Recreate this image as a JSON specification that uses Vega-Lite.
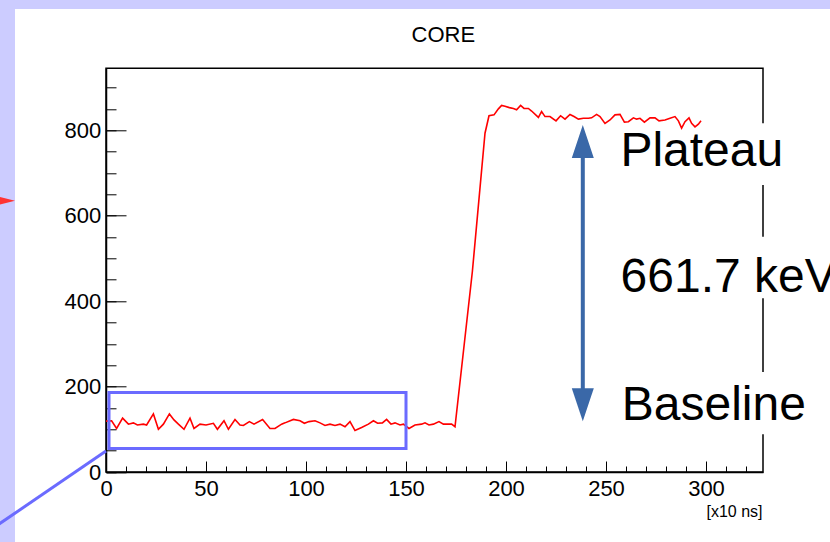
{
  "$schema": "https://vega.github.io/schema/vega-lite/v6.json",
  "width": 657,
  "height": 403.7,
  "autosize": {"type": "none"},
  "padding": {"left": 106, "top": 68.3, "right": 67, "bottom": 70},
  "background": "white",
  "config": {"view": {"stroke": "black", "strokeWidth": 1.5}, "font": "Liberation Sans"},
  "resolve": {"axis": {"x": "independent", "y": "independent"}},
  "layer": [
    {
      "data": {"values": [{}]},
      "mark": {"type": "rect", "color": "#ccccff", "strokeWidth": 0},
      "encoding": {
        "x": {"datum": -60, "type": "quantitative", "axis": null},
        "x2": {"datum": -45.5},
        "y": {"datum": -250, "type": "quantitative", "axis": null},
        "y2": {"datum": 1120}
      }
    },
    {
      "data": {"values": [{}]},
      "mark": {"type": "rect", "color": "#ccccff", "strokeWidth": 0},
      "encoding": {
        "x": {"datum": -60, "type": "quantitative", "axis": null},
        "x2": {"datum": 420},
        "y": {"datum": 1084.1, "type": "quantitative", "axis": null},
        "y2": {"datum": 1120}
      }
    },
    {
      "data": {"values": [{}]},
      "mark": {"type": "rect", "color": "white", "strokeWidth": 0},
      "encoding": {
        "x": {"datum": 317, "type": "quantitative", "axis": null},
        "x2": {"datum": 420},
        "y": {"datum": 672, "type": "quantitative", "axis": null},
        "y2": {"datum": 816.4}
      }
    },
    {
      "data": {"values": [{}]},
      "mark": {"type": "rect", "color": "white", "strokeWidth": 0},
      "encoding": {
        "x": {"datum": 317, "type": "quantitative", "axis": null},
        "x2": {"datum": 420},
        "y": {"datum": 406.7, "type": "quantitative", "axis": null},
        "y2": {"datum": 550.9}
      }
    },
    {
      "data": {"values": [{}]},
      "mark": {"type": "rect", "color": "white", "strokeWidth": 0},
      "encoding": {
        "x": {"datum": 317, "type": "quantitative", "axis": null},
        "x2": {"datum": 420},
        "y": {"datum": 88.3, "type": "quantitative", "axis": null},
        "y2": {"datum": 234.1}
      }
    },
    {
      "data": {"values": [
        {"t": 0, "v": 119}, {"t": 2.8, "v": 120}, {"t": 5.3, "v": 102}, {"t": 8.3, "v": 126},
        {"t": 11.2, "v": 112}, {"t": 13.7, "v": 115}, {"t": 15.7, "v": 110}, {"t": 18.7, "v": 112},
        {"t": 20.3, "v": 110}, {"t": 23.7, "v": 136}, {"t": 26.2, "v": 100}, {"t": 28.7, "v": 112},
        {"t": 31.7, "v": 136}, {"t": 34, "v": 122}, {"t": 36.2, "v": 112}, {"t": 39, "v": 100},
        {"t": 42, "v": 126}, {"t": 44, "v": 102}, {"t": 47, "v": 112}, {"t": 50, "v": 110},
        {"t": 53.7, "v": 114}, {"t": 55.7, "v": 100}, {"t": 59, "v": 120}, {"t": 61.2, "v": 100},
        {"t": 64.5, "v": 123}, {"t": 67, "v": 110}, {"t": 68.7, "v": 109}, {"t": 71.7, "v": 118},
        {"t": 74, "v": 112}, {"t": 78.3, "v": 123}, {"t": 82, "v": 102}, {"t": 84.5, "v": 102},
        {"t": 87.8, "v": 112}, {"t": 89.5, "v": 115}, {"t": 93.7, "v": 123}, {"t": 97, "v": 120},
        {"t": 99.2, "v": 114}, {"t": 101.5, "v": 118}, {"t": 104.5, "v": 120}, {"t": 107, "v": 115},
        {"t": 109.5, "v": 109}, {"t": 112, "v": 112}, {"t": 114.5, "v": 109}, {"t": 117, "v": 112},
        {"t": 119.5, "v": 106}, {"t": 122, "v": 118}, {"t": 124.5, "v": 97}, {"t": 127.8, "v": 104},
        {"t": 131.2, "v": 112}, {"t": 133.7, "v": 120}, {"t": 135.8, "v": 114}, {"t": 138.2, "v": 115},
        {"t": 140.3, "v": 123}, {"t": 142.5, "v": 112}, {"t": 144.5, "v": 115}, {"t": 147, "v": 110},
        {"t": 148.7, "v": 112}, {"t": 151.5, "v": 102}, {"t": 154.5, "v": 110}, {"t": 157.8, "v": 112},
        {"t": 159.5, "v": 115}, {"t": 161.5, "v": 110}, {"t": 163.7, "v": 112}, {"t": 166.5, "v": 118},
        {"t": 168.7, "v": 112}, {"t": 172.8, "v": 112}, {"t": 174.5, "v": 106}, {"t": 183.2, "v": 470},
        {"t": 189.5, "v": 793}, {"t": 191.5, "v": 834}, {"t": 194, "v": 836}, {"t": 196.2, "v": 850},
        {"t": 197.8, "v": 858}, {"t": 199.5, "v": 856}, {"t": 201.7, "v": 853}, {"t": 203.7, "v": 851},
        {"t": 205.3, "v": 848}, {"t": 207.3, "v": 858}, {"t": 209, "v": 851}, {"t": 211.2, "v": 851},
        {"t": 212.8, "v": 845}, {"t": 216.2, "v": 830}, {"t": 217.8, "v": 844}, {"t": 219.5, "v": 832},
        {"t": 222, "v": 832}, {"t": 225, "v": 822}, {"t": 227.3, "v": 834}, {"t": 229.5, "v": 826},
        {"t": 232, "v": 837}, {"t": 234, "v": 832}, {"t": 236.2, "v": 826}, {"t": 238.7, "v": 828},
        {"t": 241.2, "v": 828}, {"t": 242.8, "v": 829}, {"t": 245.3, "v": 837}, {"t": 247, "v": 832},
        {"t": 249.5, "v": 816}, {"t": 252, "v": 824}, {"t": 254.5, "v": 836}, {"t": 257, "v": 837},
        {"t": 259.2, "v": 819}, {"t": 261.2, "v": 820}, {"t": 263.7, "v": 829}, {"t": 265.3, "v": 826},
        {"t": 267, "v": 828}, {"t": 269.2, "v": 819}, {"t": 272, "v": 829}, {"t": 274.5, "v": 829},
        {"t": 276.5, "v": 822}, {"t": 279.5, "v": 824}, {"t": 282, "v": 828}, {"t": 284.5, "v": 832},
        {"t": 286.2, "v": 822}, {"t": 287.8, "v": 805}, {"t": 289.5, "v": 820}, {"t": 291.5, "v": 829},
        {"t": 292.8, "v": 816}, {"t": 294.5, "v": 808}, {"t": 296.2, "v": 814}, {"t": 297.5, "v": 822}
      ]},
      "mark": {"type": "line", "color": "#ff0000", "strokeWidth": 1.6},
      "encoding": {
        "x": {
          "field": "t", "type": "quantitative",
          "scale": {"domain": [0, 328.5], "nice": false, "zero": false},
          "axis": {
            "orient": "bottom", "values": [0, 50, 100, 150, 200, 250, 300],
            "tickSize": -11, "tickColor": "black", "tickWidth": 1,
            "labelFontSize": 22, "labelColor": "black", "labelFont": "Liberation Sans",
            "labelPadding": 34.7, "labelBaseline": "alphabetic", "labelFlush": false, "labelOverlap": false,
            "domain": true, "domainColor": "black", "domainWidth": 1.5, "grid": false,
            "title": "[x10 ns]", "titleFontSize": 16, "titleFontWeight": "normal", "titleColor": "black",
            "titleFont": "Liberation Sans", "titleAnchor": "end", "titleAlign": "right",
            "titleBaseline": "alphabetic", "titleX": 656, "titleY": 44
          }
        },
        "y": {
          "field": "v", "type": "quantitative",
          "scale": {"domain": [0, 945], "nice": false, "zero": false},
          "axis": {
            "orient": "left", "values": [0, 200, 400, 600, 800],
            "tickSize": -20, "tickColor": "black", "tickWidth": 1,
            "labelFontSize": 22, "labelColor": "black", "labelFont": "Liberation Sans",
            "labelPadding": 25.3, "labelFlush": false, "labelOverlap": false,
            "domain": true, "domainColor": "black", "domainWidth": 1.5, "grid": false,
            "title": null
          }
        }
      }
    },
    {
      "data": {"values": [{}]},
      "mark": {"type": "rect", "color": "#6b6bff", "fillOpacity": 0, "stroke": "#6b6bff", "strokeWidth": 3},
      "encoding": {
        "x": {
          "datum": 1.5, "type": "quantitative",
          "axis": {
            "orient": "bottom", "values": [0, 10, 20, 30, 40, 50, 60, 70, 80, 90, 100, 110, 120, 130, 140, 150, 160, 170, 180, 190, 200, 210, 220, 230, 240, 250, 260, 270, 280, 290, 300, 310, 320],
            "tickSize": -6, "tickColor": "black", "tickWidth": 1, "labels": false, "domain": false, "grid": false, "title": null
          }
        },
        "x2": {"datum": 150},
        "y": {
          "datum": 55, "type": "quantitative",
          "axis": {
            "orient": "left", "values": [0, 50, 100, 150, 200, 250, 300, 350, 400, 450, 500, 550, 600, 650, 700, 750, 800, 850, 900],
            "tickSize": -10, "tickColor": "black", "tickWidth": 1, "labels": false, "domain": false, "grid": false, "title": null
          }
        },
        "y2": {"datum": 186}
      }
    },
    {
      "data": {"values": [{}]},
      "mark": {"type": "rule", "color": "#6b6bff", "strokeWidth": 3},
      "encoding": {
        "x": {"datum": 0, "type": "quantitative", "axis": null},
        "x2": {"datum": -68},
        "y": {"datum": 49, "type": "quantitative", "axis": null},
        "y2": {"datum": -168.3}
      }
    },
    {
      "data": {"values": [{}]},
      "mark": {"type": "rule", "color": "#3a68a8", "strokeWidth": 4},
      "encoding": {
        "x": {"datum": 238.4, "type": "quantitative", "axis": null},
        "y": {"datum": 180, "type": "quantitative", "axis": null},
        "y2": {"datum": 760}
      }
    },
    {
      "data": {"values": [{}]},
      "mark": {"type": "point", "shape": "M0,-1L0.667,1L-0.667,1Z", "size": 1089, "filled": true, "color": "#3a68a8", "opacity": 1, "strokeWidth": 0},
      "encoding": {
        "x": {"datum": 238.4, "type": "quantitative", "axis": null},
        "y": {"datum": 773.8, "type": "quantitative", "axis": null}
      }
    },
    {
      "data": {"values": [{}]},
      "mark": {"type": "point", "shape": "M0,1L0.667,-1L-0.667,-1Z", "size": 1089, "filled": true, "color": "#3a68a8", "opacity": 1, "strokeWidth": 0},
      "encoding": {
        "x": {"datum": 238.4, "type": "quantitative", "axis": null},
        "y": {"datum": 157.2, "type": "quantitative", "axis": null}
      }
    },
    {
      "data": {"values": [{}]},
      "mark": {"type": "text", "text": "Plateau", "fontSize": 48, "font": "Liberation Sans", "align": "left", "baseline": "alphabetic", "color": "black"},
      "encoding": {
        "x": {"datum": 257.2, "type": "quantitative", "axis": null},
        "y": {"datum": 716.5, "type": "quantitative", "axis": null}
      }
    },
    {
      "data": {"values": [{}]},
      "mark": {"type": "text", "text": "661.7 keV", "fontSize": 48, "font": "Liberation Sans", "align": "left", "baseline": "alphabetic", "color": "black"},
      "encoding": {
        "x": {"datum": 257.3, "type": "quantitative", "axis": null},
        "y": {"datum": 422, "type": "quantitative", "axis": null}
      }
    },
    {
      "data": {"values": [{}]},
      "mark": {"type": "text", "text": "Baseline", "fontSize": 48, "font": "Liberation Sans", "align": "left", "baseline": "alphabetic", "color": "black"},
      "encoding": {
        "x": {"datum": 257.9, "type": "quantitative", "axis": null},
        "y": {"datum": 121.7, "type": "quantitative", "axis": null}
      }
    },
    {
      "data": {"values": [{}]},
      "mark": {"type": "text", "text": "CORE", "fontSize": 22, "font": "Liberation Sans", "align": "center", "baseline": "alphabetic", "color": "black"},
      "encoding": {
        "x": {"datum": 168.7, "type": "quantitative", "axis": null},
        "y": {"datum": 1006.1, "type": "quantitative", "axis": null}
      }
    },
    {
      "data": {"values": [{}]},
      "mark": {"type": "point", "shape": "M1,0L-1,-0.5L-1,0.5Z", "size": 576, "filled": true, "color": "#ff3333", "opacity": 1, "strokeWidth": 0},
      "encoding": {
        "x": {"datum": -51.5, "type": "quantitative", "axis": null},
        "y": {"datum": 635, "type": "quantitative", "axis": null}
      }
    }
  ]
}
